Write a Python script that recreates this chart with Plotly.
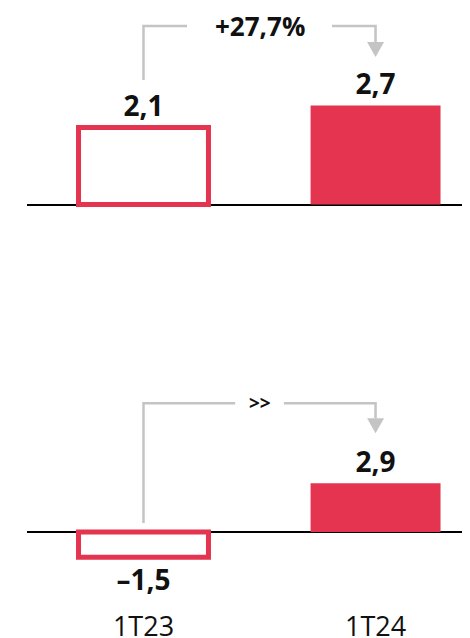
import plotly.graph_objects as go

# ---- data ----
categories = ["1T23", "1T24"]
top_values = [2.1, 2.7]
bottom_values = [-1.5, 2.9]
change_labels = ["+27,7%", ">>"]

# ---- style / geometry ----
OFF = 8                      # page body offset of the rendered figure
W, H = 470 - OFF, 638 - OFF
ML = 27 - OFF
RED = "#e5344f"
GREY = "#c4c4c4"
FONT = "Open Sans"

x_range = [-0.502, 1.407]
x_px_per_unit = 232.0

panels = [
    # domain in page pixels (top, bottom), baseline pixel, px per unit
    dict(values=top_values, dom=(8, 260), base=204.5, scale=36.7,
         start_px=47.5, level_px=79.5, tip_px=48.5, gap=0.3125, label_size=26),
    dict(values=bottom_values, dom=(370, 600), base=532.0, scale=16.8,
         start_px=9.0, level_px=80.0, tip_px=50.0, gap=0.105, label_size=19),
]


def fmt(v):
    return f"{v:.1f}".replace(".", ",").replace("-", "\u2013")


fig = go.Figure()
shapes = []
annotations = []

for i, p in enumerate(panels):
    ax = "" if i == 0 else str(i + 1)
    xref, yref = "x" + ax, "y" + ax
    vals = p["values"]
    top_px, bot_px = p["dom"]
    base = p["base"]
    y_top = (base - top_px) / p["scale"]
    y_bot = -(bot_px - base) / p["scale"]

    fig.add_trace(go.Bar(
        x=[0, 1], y=vals,
        width=0.56,
        marker=dict(color=["white", RED],
                    line=dict(color=[RED, RED], width=[5, 0])),
        text=[fmt(v) for v in vals],
        textposition="outside",
        textfont=dict(family=FONT, size=28, color="#111111", weight="bold"),
        cliponaxis=False,
        xaxis=xref, yaxis=yref,
        hoverinfo="skip",
    ))

    fig.layout["xaxis" + ax] = dict(
        domain=[0, 1], range=x_range, anchor=yref,
        tickvals=[0, 1], ticktext=categories,
        showticklabels=(i == 1), ticks="", showgrid=False, zeroline=False,
        showline=False, automargin=False,
        tickfont=dict(family=FONT, size=27, color="#111111"),
        ticklabelstandoff=8,
    )
    fig.layout["yaxis" + ax] = dict(
        domain=[1 - (bot_px - OFF) / H, 1 - (top_px - OFF) / H],
        range=[y_bot, y_top],
        anchor=xref, showticklabels=False, ticks="", showgrid=False,
        zeroline=True, zerolinecolor="#000000", zerolinewidth=2,
        showline=False, automargin=False,
    )

    s = p["scale"]
    y_start = max(vals[0], 0) + p["start_px"] / s
    y_level = max(vals) + p["level_px"] / s
    y_tip = vals[1] + p["tip_px"] / s
    head_h = 15 / s
    head_w = 8.5 / x_px_per_unit
    mid = 0.5
    line = dict(color=GREY, width=2.5)
    shapes.append(dict(type="path", xref=xref, yref=yref,
                       path=f"M 0,{y_start} L 0,{y_level} L {mid - p['gap']},{y_level}",
                       line=line))
    shapes.append(dict(type="path", xref=xref, yref=yref,
                       path=f"M {mid + p['gap']},{y_level} L 1,{y_level} L 1,{y_tip + head_h}",
                       line=line))
    shapes.append(dict(type="path", xref=xref, yref=yref,
                       path=(f"M {1 - head_w},{y_tip + head_h} L {1 + head_w},{y_tip + head_h} "
                             f"L 1,{y_tip} Z"),
                       fillcolor=GREY, line=dict(width=0)))
    annotations.append(dict(
        x=mid, y=y_level, xref=xref, yref=yref, text=change_labels[i],
        showarrow=False, xanchor="center", yanchor="middle",
        font=dict(family=FONT, size=p["label_size"], color="#111111", weight="bold"),
    ))

fig.update_layout(
    width=W, height=H,
    margin=dict(l=ML, r=0, t=0, b=0),
    paper_bgcolor="white", plot_bgcolor="white",
    showlegend=False, template="none",
    shapes=shapes, annotations=annotations,
)

fig.write_html("out.html")
